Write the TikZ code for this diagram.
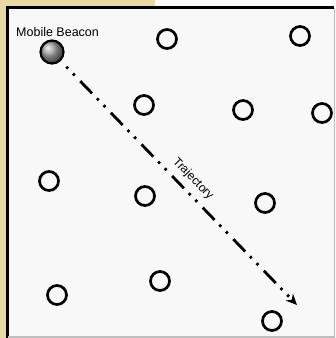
\documentclass[tikz,border=0pt]{standalone}
\usepackage{fontspec}
\setmainfont{Liberation Sans}
\usetikzlibrary{arrows.meta}
\definecolor{beige}{RGB}{234,216,166}
\definecolor{panel}{RGB}{248,248,248}
\tikzset{
  sensor/.style={circle, draw=black, line width=2.7pt, minimum size=19pt, inner sep=0pt, fill=none},
  beaconball/.style={circle, draw=black, line width=2.2pt, minimum size=23pt, inner sep=0pt, shading=ball, ball color=gray!75},
  traj/.style={line width=2.8pt, dash pattern=on 2.5pt off 7pt on 2.5pt off 8pt on 17pt off 7pt, -{Stealth[length=11pt,width=10pt]}},
  lbl/.style={text=black, inner sep=0pt}
}
\begin{document}
\begin{tikzpicture}[x=1pt,y=-1pt]
\useasboundingbox (0,0) rectangle (336,338);
% background strips
\fill[white] (0,0) rectangle (336,338);
\fill[beige] (0,0) rectangle (155,8);
\fill[beige] (0,0) rectangle (7,338);
% panel
\fill[panel] (7,7.5) rectangle (336,338);
\draw[black, line width=3pt] (7.5,338) -- (7.5,7.5) -- (334,7.5);
\draw[gray!50, line width=1.2pt] (334.5,7.5) -- (334.5,337) -- (7.5,337);
% sensors
\node[sensor] (s1) at (167,39) {};
\node[sensor] (s2) at (300,36) {};
\node[sensor] (s3) at (144,105) {};
\node[sensor] (s4) at (243,110) {};
\node[sensor] (s5) at (322,113) {};
\node[sensor] (s6) at (49,181) {};
\node[sensor] (s7) at (145,196) {};
\node[sensor] (s8) at (265,203) {};
\node[sensor] (s9) at (57,295) {};
\node[sensor] (s10) at (160,281) {};
\node[sensor] (s11) at (272,321) {};
% beacon
\node[beaconball] (beacon) at (52,52) {};
\node[lbl, anchor=west, font=\fontsize{12.5pt}{13pt}\selectfont] (blabel) at (16,32) {Mobile Beacon};
% trajectory
\coordinate (tip) at (297,305);
\draw[traj, shorten <=8pt] (beacon) -- (tip);
\node[lbl, rotate=-46, font=\fontsize{12pt}{13pt}\selectfont] (tlabel) at (193,179) {Trajectory};
\end{tikzpicture}
\end{document}
